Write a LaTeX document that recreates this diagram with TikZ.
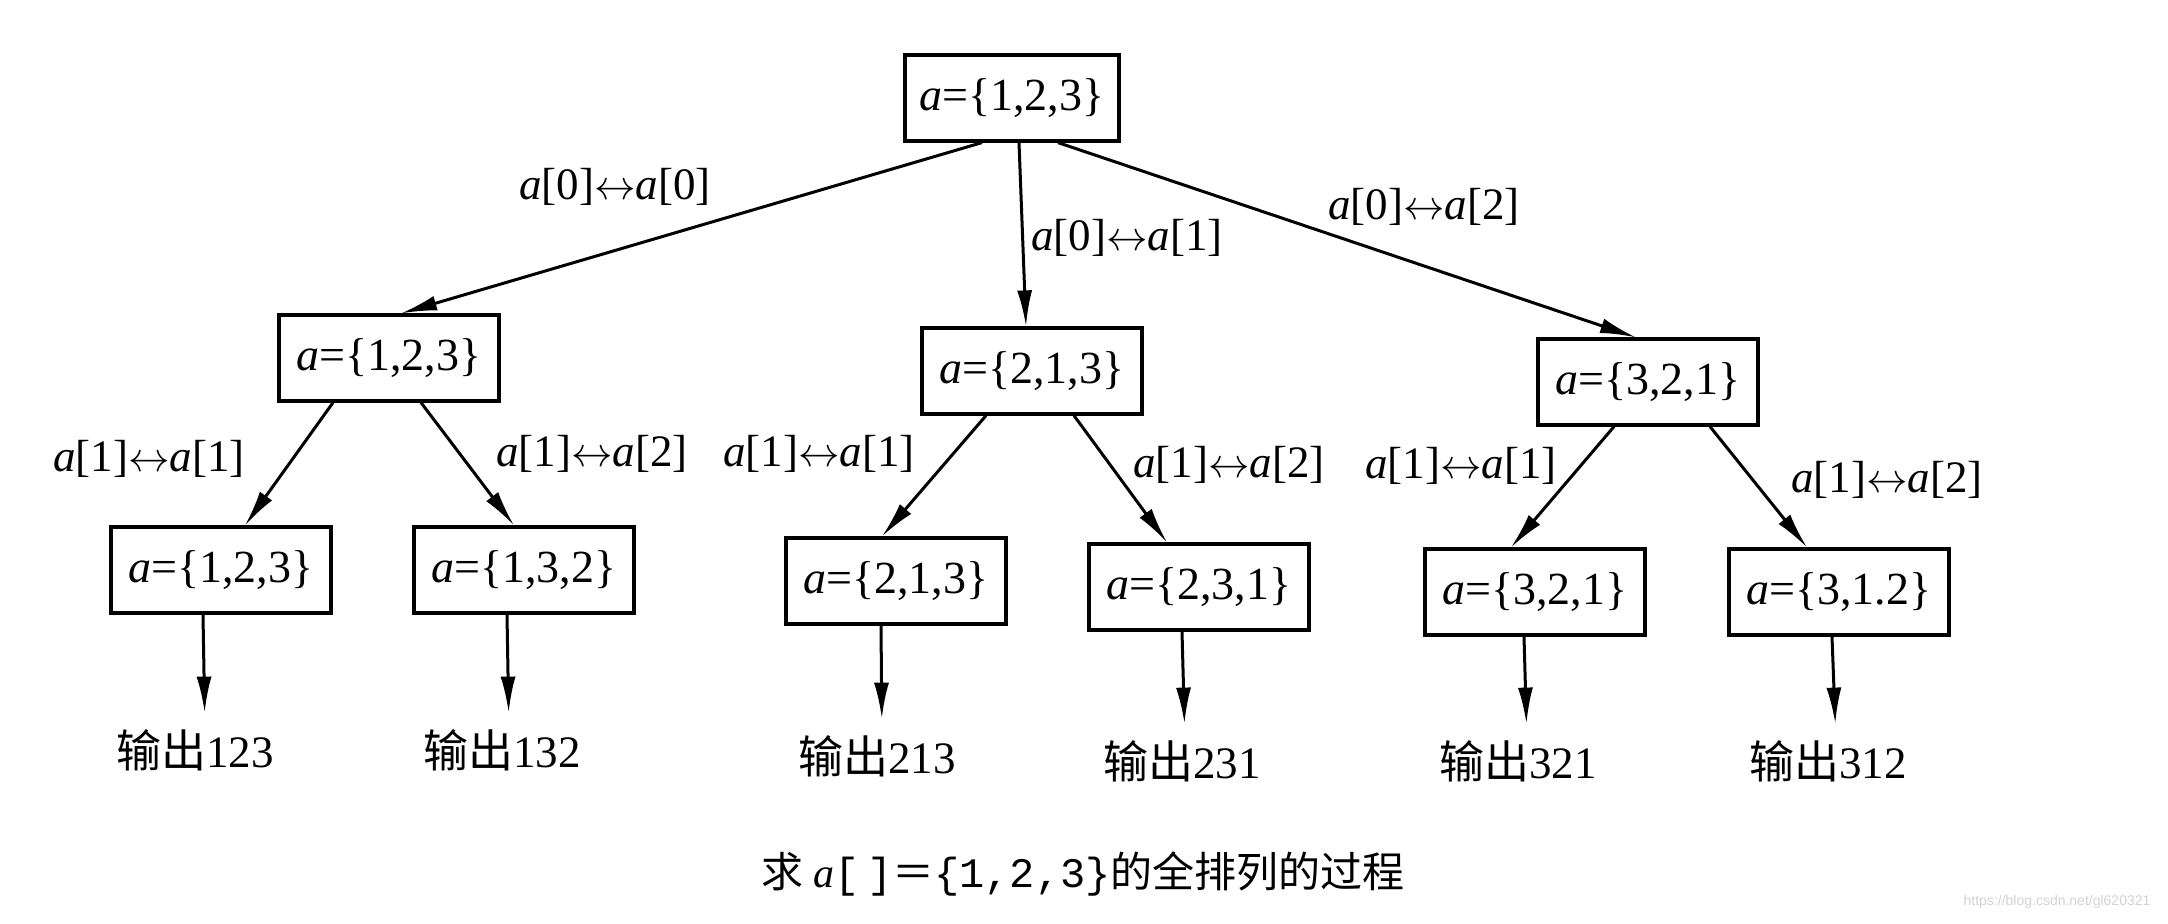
\documentclass[tikz,border=0pt]{standalone}
\usepackage{fontspec}
\setmainfont{Liberation Serif}
\newfontfamily\cjk{Noto Sans CJK SC}
\newfontfamily\monof{Liberation Mono}
\newfontfamily\wmfont{Liberation Sans}
\usetikzlibrary{arrows.meta}
\newcommand{\sw}{\ensuremath{\leftrightarrow}}
\begin{document}
\begin{tikzpicture}[x=0.5pt,y=-0.5pt,
  box/.style={draw, line width=1.6pt, minimum width=110pt, minimum height=43pt, inner sep=0pt, font=\fontsize{23}{27}\selectfont},
  lbl/.style={inner sep=0pt, font=\fontsize{22.5}{27}\selectfont},
  outl/.style={inner sep=0pt, text height=17pt, text depth=4pt, font=\fontsize{22.5}{27}\selectfont},
  arr/.style={line width=1.5pt, -{Latex[length=18pt,width=7.5pt]}},
  outarr/.style={arr, shorten >=10pt}]
\useasboundingbox (0,0) rectangle (2168,924);
% boxes
\node[box, minimum width=107pt] (r) at (1012,98) {\textit{a}=\{1,2,3\}};
\node[box] (l) at (389,358) {\textit{a}=\{1,2,3\}};
\node[box] (m) at (1032,371) {\textit{a}=\{2,1,3\}};
\node[box] (g) at (1648,382) {\textit{a}=\{3,2,1\}};
\node[box] (b1) at (221,570) {\textit{a}=\{1,2,3\}};
\node[box] (b2) at (524,570) {\textit{a}=\{1,3,2\}};
\node[box] (b3) at (896,581) {\textit{a}=\{2,1,3\}};
\node[box] (b4) at (1199,587) {\textit{a}=\{2,3,1\}};
\node[box] (b5) at (1535,592) {\textit{a}=\{3,2,1\}};
\node[box] (b6) at (1839,592) {\textit{a}=\{3,1.2\}};
% outputs
\node[outl] (o1) at (195,754) {{\cjk 输出}123};
\node[outl] (o2) at (502,754) {{\cjk 输出}132};
\node[outl] (o3) at (877,760) {{\cjk 输出}213};
\node[outl] (o4) at (1182,765) {{\cjk 输出}231};
\node[outl] (o5) at (1518,765) {{\cjk 输出}321};
\node[outl] (o6) at (1828,765) {{\cjk 输出}312};
% edge labels
\node[lbl] (t1) at (615,187) {\textit{a}[0]\sw\textit{a}[0]};
\node[lbl] (t2) at (1127,238) {\textit{a}[0]\sw\textit{a}[1]};
\node[lbl] (t3) at (1424,207) {\textit{a}[0]\sw\textit{a}[2]};
\node[lbl] (t4) at (149,459) {\textit{a}[1]\sw\textit{a}[1]};
\node[lbl] (t5) at (592,454) {\textit{a}[1]\sw\textit{a}[2]};
\node[lbl] (t6) at (819,454) {\textit{a}[1]\sw\textit{a}[1]};
\node[lbl] (t7) at (1229,465) {\textit{a}[1]\sw\textit{a}[2]};
\node[lbl] (t8) at (1461,466) {\textit{a}[1]\sw\textit{a}[1]};
\node[lbl] (t9) at (1887,480) {\textit{a}[1]\sw\textit{a}[2]};
% arrows level 0 -> 1
\draw[arr] ([xshift=-15pt]r.south) -- ([xshift=6pt]l.north);
\draw[arr] ([xshift=3.5pt]r.south) -- ([xshift=-3pt]m.north);
\draw[arr] ([xshift=23pt]r.south) -- ([xshift=-6pt]g.north);
% level 1 -> 2
\draw[arr] ([xshift=-28pt]l.south) -- ([xshift=12pt]b1.north);
\draw[arr] ([xshift=16pt]l.south) -- ([xshift=-5pt]b2.north);
\draw[arr] ([xshift=-23pt]m.south) -- ([xshift=-7pt]b3.north);
\draw[arr] ([xshift=21pt]m.south) -- ([xshift=-16pt]b4.north);
\draw[arr] ([xshift=-17pt]g.south) -- ([xshift=-12pt]b5.north);
\draw[arr] ([xshift=31pt]g.south) -- ([xshift=-16pt]b6.north);
% level 2 -> outputs
\draw[outarr] ([xshift=-9pt]b1.south) -- ([xshift=5pt]o1.north);
\draw[outarr] ([xshift=-8.5pt]b2.south) -- ([xshift=3.5pt]o2.north);
\draw[outarr] ([xshift=-7.5pt]b3.south) -- ([xshift=2.5pt]o3.north);
\draw[outarr] ([xshift=-8.5pt]b4.south) -- ([xshift=1.5pt]o4.north);
\draw[outarr] ([xshift=-5.5pt]b5.south) -- ([xshift=4.5pt]o5.north);
\draw[outarr] ([xshift=-3.5pt]b6.south) -- ([xshift=4pt]o6.north);
% caption
\node[inner sep=0pt, font=\fontsize{21}{25}\selectfont] (cap) at (1083,874)
  {{\cjk 求} \textit{a}{\monof[\,]}{\cjk ＝}{\monof\{1,2,3\}}{\cjk 的全排列的过程}};
% watermark
\node[inner sep=0pt, text=gray!35, font=\wmfont\fontsize{7}{8}\selectfont] (wm) at (2057,902) {https://blog.csdn.net/gl620321};
\end{tikzpicture}
\end{document}
